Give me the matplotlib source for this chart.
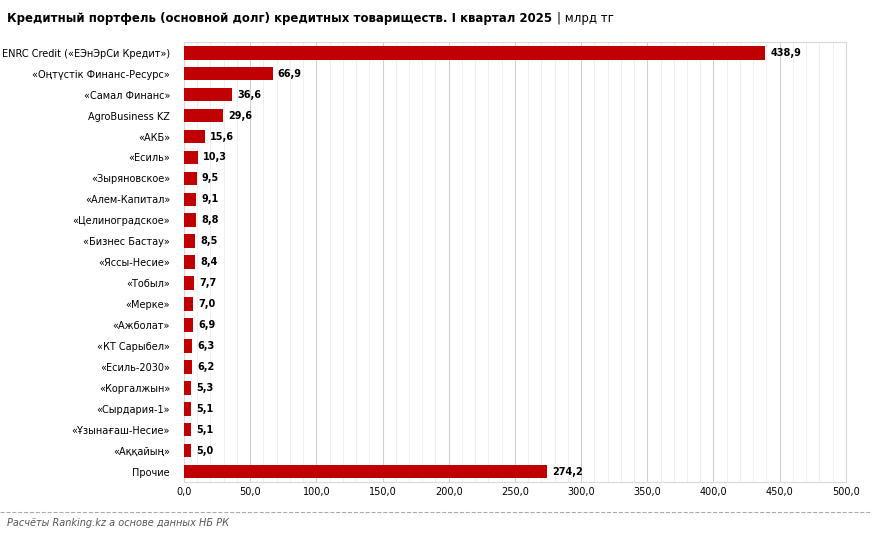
import matplotlib.pyplot as plt
import numpy as np

names = ["ENRC Credit («ЕЭнЭрСи Кредит»)", "«Оңтүстік Финанс-Ресурс»", "«Самал Финанс»",
         "AgroBusiness KZ", "«АКБ»", "«Есиль»", "«Зыряновское»", "«Алем-Капитал»",
         "«Целиноградское»", "«Бизнес Бастау»", "«Яссы-Несие»", "«Тобыл»", "«Мерке»",
         "«Ажболат»", "«КТ Сарыбел»", "«Есиль-2030»", "«Коргалжын»", "«Сырдария-1»",
         "«Ұзынағаш-Несие»", "«Аққайың»", "Прочие"]
values = [438.9, 66.9, 36.6, 29.6, 15.6, 10.3, 9.5, 9.1, 8.8, 8.5, 8.4, 7.7, 7.0,
          6.9, 6.3, 6.2, 5.3, 5.1, 5.1, 5.0, 274.2]
xticks = np.arange(0, 501, 50)

fig = plt.figure(figsize=(8.72, 5.35), dpi=100)
ax = fig.add_axes([0.211, 0.099, 0.759, 0.822])
y = np.arange(len(names))
ax.barh(y, values, height=0.65, color="#C00000", zorder=3)
for yi, v in zip(y, values):
    ax.text(v + 4, yi, f"{v:.1f}".replace(".", ","), va="center", ha="left",
            fontsize=7, fontweight="bold")
ax.set_yticks(y)
ax.set_yticklabels(names, fontsize=7)
ax.set_ylim(len(names) - 0.5, -0.5)
ax.set_xlim(0, 500)
ax.set_xticks(xticks)
ax.set_xticklabels([f"{t:.1f}".replace(".", ",") for t in xticks], fontsize=7)
ax.set_xticks(np.arange(0, 501, 10), minor=True)
ax.grid(axis="x", which="major", color="#d0d0d0", lw=0.8, zorder=0)
ax.grid(axis="x", which="minor", color="#ececec", lw=0.6, zorder=0)
ax.tick_params(axis="both", which="both", length=0)
ax.tick_params(axis="y", pad=10)
for s in ax.spines.values():
    s.set_color("#d9d9d9")

title = fig.text(0.008, 0.965, "Кредитный портфель (основной долг) кредитных товариществ. I квартал 2025",
                 fontsize=8.5, fontweight="bold", va="center")
fig.canvas.draw()
bb = title.get_window_extent().transformed(fig.transFigure.inverted())
fig.text(bb.x1 + 0.006, 0.965, "| млрд тг", fontsize=8.5, va="center")
fig.add_artist(plt.Line2D([0, 1], [0.043, 0.043], color="#aaaaaa", lw=0.8, ls="--"))
fig.text(0.008, 0.022, "Расчёты Ranking.kz а основе данных НБ РК", fontsize=7,
         style="italic", color="#555555", va="center")
fig.savefig("out.png", dpi=100)
